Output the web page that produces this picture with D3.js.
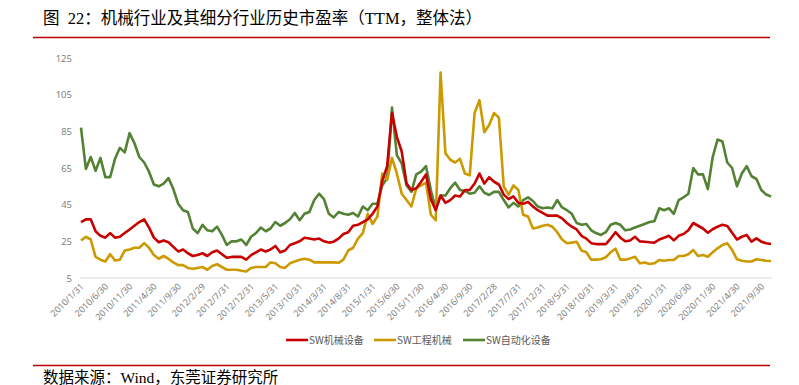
<!DOCTYPE html>
<html>
<head>
<meta charset="utf-8">
<script src="https://cdn.jsdelivr.net/npm/d3@7"></script>
<style>
  html, body { margin: 0; padding: 0; background: #fff; }
  svg { display: block; }
</style>
</head>
<body>
<div class="graph"></div>
<script>
'use strict'

// monthly month-end points, 2010/1/31 .. 2021/11/30
const firstMonth = new Date(2010, 0, 1)
const lastMonth = new Date(2021, 10, 1)

const tickLabels = [
  '2010/1/31', '2010/6/30', '2010/11/30', '2011/4/30', '2011/9/30', '2012/2/29',
  '2012/7/31', '2012/12/31', '2013/5/31', '2013/10/31', '2014/3/31', '2014/8/31',
  '2015/1/31', '2015/6/30', '2015/11/30', '2016/4/30', '2016/9/30', '2017/2/28',
  '2017/7/31', '2017/12/31', '2018/5/31', '2018/10/31', '2019/3/31', '2019/8/31',
  '2020/1/31', '2020/6/30', '2020/11/30', '2021/4/30', '2021/9/30'
]
const yTicks = [5, 25, 45, 65, 85, 105, 125]

const seriesNames = ['SW机械设备', 'SW工程机械', 'SW自动化设备']

const machinery = [
  35.5, 37, 37, 30.5, 28, 27, 29.5, 27, 27.5, 29.5, 31.5, 33.5, 35.5, 37, 32.5, 27, 24.5, 25.5, 24.5, 22,
  19.5, 20.5, 18.5, 17, 17.5, 18.5, 17, 19, 20, 18, 16, 16.5, 16.5, 16.5, 15, 17.5, 19, 20.5, 19.5, 20.5,
  22.5, 19, 20, 23, 24, 25, 27, 26.5, 26, 26.5, 25, 24.3, 24.8, 26.5, 29, 30, 33.5, 34, 35.5, 37,
  40, 44, 58, 66, 95, 82, 74, 56.5, 53, 54, 57.5, 61.5, 48, 42, 50, 46, 47.5, 50, 49.5, 53,
  53, 56.5, 62, 56.5, 60, 57.5, 56, 50.5, 48, 49.5, 46, 45.5, 46.5, 44, 42, 40.5, 39, 39, 39, 37.5,
  35, 33, 31.5, 28, 26.5, 24, 23.5, 23.5, 23.5, 26.5, 30, 27, 25, 25.5, 27.5, 25, 24.8, 24.5, 24.3, 26,
  27, 28, 25.5, 28, 29, 31, 35, 33.5, 32, 29.7, 31.6, 33, 34, 33.4, 29.7, 26, 27.5, 28.5, 24.8, 26.6,
  24.8, 24, 23.5
]

const construction = [
  25.5, 27.5, 26, 16.5, 15, 14, 18, 14.5, 15, 20, 20.5, 21.5, 21.5, 24, 21.5, 17.5, 15.5, 17, 15.5, 13.5,
  12, 12, 10.5, 10, 10.5, 11, 9.5, 11.5, 12.5, 11, 9.5, 9.5, 9.5, 9, 8.5, 10.5, 11, 11, 11, 13.5,
  13, 11, 10.5, 13, 14, 15, 15.5, 15, 13.5, 13.5, 13.5, 13.5, 13.5, 13.3, 15, 20, 21.5, 26.5, 29.5, 40,
  34.5, 38.5, 62, 58.5, 70.5, 62, 51, 47.5, 44, 54, 55.5, 57, 39.5, 36.5, 117, 73, 69.5, 68, 70, 62,
  61, 95, 102, 84.5, 88.5, 95, 92.5, 55, 50.5, 55.5, 53, 39.5, 38.5, 32, 32.5, 33.5, 34, 33, 30, 26,
  24, 24.3, 24.8, 20, 19, 15, 15, 15.2, 16.3, 19, 21, 15, 15, 15.7, 16.6, 13, 13.4, 12.6, 13, 14.8,
  14.4, 14.8, 14.8, 17, 17, 18, 20.3, 17, 17.6, 16.6, 19, 21.2, 23, 24, 20.3, 15.2, 14.4, 14, 14, 15.2,
  14.8, 14.4, 14.3
]

const automation = [
  87, 64.5, 71, 63.5, 70.5, 60, 60, 70, 76, 73.5, 84, 78.5, 71, 68, 63, 56, 55, 56.5, 59.5, 53.5,
  45.5, 42, 41, 32, 29.5, 34, 31, 30.5, 33, 28.5, 23, 25, 25, 26, 23, 27.5, 29.5, 32.5, 30.5, 32,
  35.5, 33.5, 35, 37, 40.5, 36.5, 40, 41, 47.5, 51, 48, 40, 38, 41, 40, 39.5, 40.5, 38.5, 44, 42,
  45.5, 45.5, 55.5, 59.5, 98, 72, 67.5, 55.5, 52, 61.5, 63, 66, 53, 42.5, 50, 50, 54, 57, 53, 52.5,
  51, 51.5, 55, 51.5, 50.3, 52, 52, 47.5, 43.5, 46, 44, 47.5, 49, 47, 44, 43, 43.5, 43, 47.5, 43.5,
  42, 40, 35, 34, 34.5, 31, 29.5, 28.5, 30, 34, 35, 34, 31, 31.5, 32.5, 33.5, 34.5, 35.5, 36, 43,
  42, 43, 40, 47.5, 49, 51, 65, 61.5, 61.5, 53.5, 71, 80.5, 79.5, 68, 65, 55, 62, 66, 60.5, 59,
  53, 50.5, 49.5
]

const seriesColors = ['#c80000', '#cc9a00', '#548235']

const width = 799
const height = 385
const fmt = d3.timeFormat('%Y/%-m/%-d')
const categories = d3.timeMonth.range(firstMonth, d3.timeMonth.offset(lastMonth, 1))
  .map(m => fmt(d3.timeDay.offset(d3.timeMonth.offset(m, 1), -1)))

const svg = d3.select('.graph').append('svg')
  .attr('width', width)
  .attr('height', height)
  .style('font-family', '"Noto Sans CJK SC", "Noto Sans", sans-serif')

// title + red rules
svg.append('text')
  .attr('x', 43)
  .attr('y', 24)
  .style('font-family', '"Liberation Serif", "Noto Sans CJK SC", serif')
  .style('font-size', '16.5px')
  .style('white-space', 'pre')
  .attr('fill', '#000')
  .text('图  22：机械行业及其细分行业历史市盈率（TTM，整体法）')

svg.append('line')
  .attr('x1', 33).attr('x2', 770)
  .attr('y1', 37.5).attr('y2', 37.5)
  .attr('stroke', '#c00000')
  .attr('stroke-width', 1.5)

svg.append('line')
  .attr('x1', 33).attr('x2', 770)
  .attr('y1', 365.5).attr('y2', 365.5)
  .attr('stroke', '#c00000')
  .attr('stroke-width', 1.5)

svg.append('text')
  .attr('x', 43)
  .attr('y', 383)
  .style('font-family', '"Liberation Serif", "Noto Sans CJK SC", serif')
  .style('font-size', '15.5px')
  .attr('fill', '#000')
  .text('数据来源：Wind，东莞证券研究所')

// scales
const xScale = d3.scalePoint().domain(categories).range([81, 771])
const yScale = d3.scaleLinear().domain([5, 125]).range([278, 58])

// x axis
const xAxis = svg.append('g')
  .attr('transform', 'translate(0,278)')
  .call(d3.axisBottom(xScale).tickValues(tickLabels).tickSize(0).tickSizeOuter(0))
xAxis.select('.domain')
  .attr('stroke', '#d9d9d9')
  .attr('stroke-width', 1)
  .attr('d', 'M80,0H772')
xAxis.selectAll('text')
  .attr('y', 0)
  .attr('dy', 0)
  .attr('transform', 'translate(3,9)rotate(-45)')
  .style('text-anchor', 'end')
  .style('font-size', '9px')
  .style('font-family', '"Noto Sans", sans-serif')
  .attr('fill', '#7f7f7f')

// y axis
const yAxis = svg.append('g')
  .attr('transform', 'translate(80,0)')
  .call(d3.axisLeft(yScale).tickValues(yTicks).tickSize(0).tickPadding(8))
yAxis.select('.domain').remove()
yAxis.selectAll('text')
  .style('font-size', '9.5px')
  .style('font-family', '"Noto Sans", sans-serif')
  .attr('fill', '#7f7f7f')

// lines
const seriesData = [machinery, construction, automation]
const line = d3.line()
  .x((d, i) => xScale(categories[i]))
  .y(d => yScale(d))

// draw green first so red sits on top, as in the reference
;[2, 1, 0].forEach(k => {
  svg.append('path')
    .datum(seriesData[k])
    .attr('fill', 'none')
    .attr('stroke', seriesColors[k])
    .attr('stroke-width', 2.6)
    .attr('stroke-linejoin', 'round')
    .attr('d', line)
})

// legend
const legendX = [286, 374, 463]
const legend = svg.append('g').attr('transform', 'translate(0,340)')
seriesNames.forEach((name, k) => {
  legend.append('line')
    .attr('x1', legendX[k]).attr('x2', legendX[k] + 22)
    .attr('y1', 0).attr('y2', 0)
    .attr('stroke', seriesColors[k])
    .attr('stroke-width', 2.6)
  legend.append('text')
    .attr('x', legendX[k] + 23)
    .attr('y', 0)
    .attr('dy', '0.35em')
    .style('font-size', '10px')
    .attr('fill', '#595959')
    .text(name)
})
</script>
</body>
</html>
